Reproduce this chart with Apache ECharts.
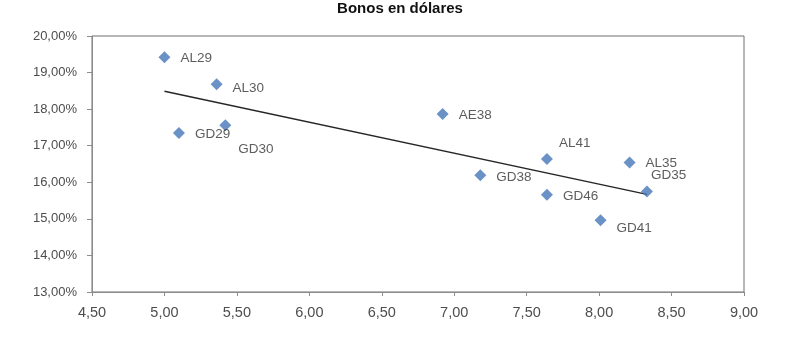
<!DOCTYPE html>
<html>
<head>
<meta charset="utf-8">
<script src="https://cdn.jsdelivr.net/npm/echarts@6/dist/echarts.min.js"></script>
<style>
  html, body { margin: 0; padding: 0; background: #fff; }
  #chart { width: 800px; height: 339px; }
</style>
</head>
<body>
<div id="chart"></div>
<script>
// Bond tickers, modified duration (years) and yield (%)
const bonds     = ['AL29', 'AL30', 'GD29', 'GD30', 'AE38', 'AL41', 'AL35', 'GD38', 'GD46', 'GD41', 'GD35'];
const duration  = [5.00, 5.36, 5.10, 5.42, 6.92, 7.64, 8.21, 7.18, 7.64, 8.01, 8.33];
const yieldPct  = [19.42, 18.68, 17.35, 17.56, 17.87, 16.64, 16.54, 16.19, 15.66, 14.96, 15.75];

// Axis ranges
const xTicks = { min: 4.5, max: 9.0, step: 0.5 };
const yTicks = { min: 13, max: 20, step: 1 };

// Label nudges so tags do not collide with neighbours
const labelNudge = {
  AL29: [0, 1], AL30: [0, 4], GD29: [0, 1], GD30: [-3, 24], AE38: [0, 1],
  AL41: [-4, -16], AL35: [0, 1], GD38: [0, 2], GD46: [0, 2], GD41: [0, 8], GD35: [-12, -16]
};

// Least-squares trend line over the points
function linearFit(xs, ys) {
  const n = xs.length;
  const mx = xs.reduce((a, b) => a + b, 0) / n;
  const my = ys.reduce((a, b) => a + b, 0) / n;
  let sxy = 0, sxx = 0;
  for (let i = 0; i < n; i++) {
    sxy += (xs[i] - mx) * (ys[i] - my);
    sxx += (xs[i] - mx) * (xs[i] - mx);
  }
  const slope = sxy / sxx;
  return x => my + slope * (x - mx);
}
const fit = linearFit(duration, yieldPct);
const xLo = Math.min(...duration), xHi = Math.max(...duration);
const trend = [[xLo, fit(xLo)], [xHi, fit(xHi)]];

const points = bonds.map((name, i) => ({
  name,
  value: [duration[i], yieldPct[i]],
  label: { offset: labelNudge[name] || [0, 0] }
}));

const FONT = 'Liberation Sans, Arial, sans-serif';

const chart = echarts.init(document.getElementById('chart'), null, { renderer: 'canvas' });
chart.setOption({
  animation: false,
  backgroundColor: '#ffffff',
  title: {
    text: 'Bonos en dólares',
    left: 'center',
    top: 1,
    padding: 0,
    textStyle: { fontSize: 15, fontWeight: 'bold', color: '#111111', fontFamily: FONT }
  },
  grid: {
    left: 92, right: 56, top: 36, bottom: 47,
    show: true, borderColor: '#6e6e6e', borderWidth: 1, backgroundColor: 'transparent'
  },
  xAxis: {
    type: 'value',
    min: xTicks.min, max: xTicks.max, interval: xTicks.step,
    axisLine: { show: true, onZero: false, lineStyle: { color: '#8c8c8c', width: 1 } },
    axisTick: { show: true, length: 4, lineStyle: { color: '#8c8c8c' } },
    splitLine: { show: false },
    axisLabel: {
      margin: 13,
      color: '#4d4d4d', fontSize: 14.5, fontFamily: FONT,
      formatter: v => v.toFixed(2).replace('.', ',')
    }
  },
  yAxis: {
    type: 'value',
    min: yTicks.min, max: yTicks.max, interval: yTicks.step,
    axisLine: { show: true, lineStyle: { color: '#8c8c8c', width: 1 } },
    axisTick: { show: true, length: 5, lineStyle: { color: '#8c8c8c' } },
    splitLine: { show: false },
    axisLabel: {
      margin: 15,
      color: '#4d4d4d', fontSize: 13, fontFamily: FONT,
      formatter: v => v.toFixed(2).replace('.', ',') + '%'
    }
  },
  series: [
    {
      type: 'line',
      data: trend,
      symbol: 'none',
      silent: true,
      lineStyle: { color: '#262626', width: 1.5 },
      z: 1
    },
    {
      type: 'scatter',
      data: points,
      symbol: 'diamond',
      symbolSize: 12,
      itemStyle: { color: '#4577b8' },
      label: {
        show: true,
        position: 'right',
        distance: 10,
        formatter: p => p.name,
        color: '#333333',
        fontSize: 13.5,
        fontFamily: FONT
      },
      z: 2
    }
  ]
});
</script>
</body>
</html>
